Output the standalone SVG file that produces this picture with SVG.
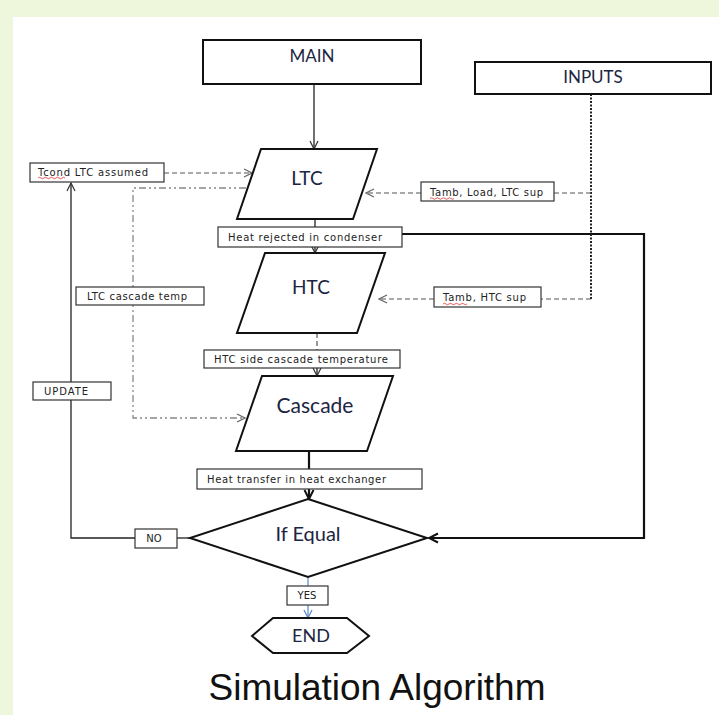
<svg xmlns="http://www.w3.org/2000/svg" width="719" height="715" viewBox="0 0 719 715">
<style>
.big{fill:#fff;stroke:#111;stroke-width:2}
.lbl{fill:#fff;stroke:#333;stroke-width:1.2}
.t1{font-family:Lato,"Open Sans",sans-serif;fill:#1c2541}
.t2{font-family:"DejaVu Sans",Verdana,sans-serif;font-size:10px;fill:#222}
.solid{fill:none;stroke:#222;stroke-width:1.3}
.thick{fill:none;stroke:#111;stroke-width:2.2}
.dash{fill:none;stroke:#555;stroke-width:1.2;stroke-dasharray:5 3}
.dashdot{fill:none;stroke:#888;stroke-width:1.3;stroke-dasharray:7 3 2 3 2 3}
.dot{fill:none;stroke:#222;stroke-width:2;stroke-dasharray:2 1.5}
.blue{fill:none;stroke:#5b86c8;stroke-width:1.2}
.sq{fill:none;stroke:#e03030;stroke-width:0.8}
</style>
<defs>
<marker id="open" markerWidth="10" markerHeight="10" refX="9" refY="5" orient="auto" markerUnits="userSpaceOnUse">
<path d="M1,1 L9,5 L1,9" fill="none" stroke="#333" stroke-width="1.2"/>
</marker>
<marker id="openg" markerWidth="10" markerHeight="10" refX="9" refY="5" orient="auto" markerUnits="userSpaceOnUse">
<path d="M1,1 L9,5 L1,9" fill="none" stroke="#666" stroke-width="1.2"/>
</marker>
<marker id="openb" markerWidth="10" markerHeight="10" refX="9" refY="5" orient="auto" markerUnits="userSpaceOnUse">
<path d="M1,1 L9,5 L1,9" fill="none" stroke="#5b86c8" stroke-width="1.2"/>
</marker>
<marker id="heavy" markerWidth="12" markerHeight="12" refX="10" refY="6" orient="auto" markerUnits="userSpaceOnUse">
<path d="M1,1.5 L10,6 L1,10.5" fill="none" stroke="#111" stroke-width="2"/>
</marker>
</defs>

<rect x="0" y="0" width="719" height="715" fill="#eef7dc"/>
<rect x="13" y="17" width="706" height="698" fill="#fff"/>

<g id="connectors">
<path class="solid" d="M314,84 L314,149" marker-end="url(#open)"/>
<path class="dash" d="M164,173 L252,173" marker-end="url(#openg)"/>
<path class="dashdot" d="M246,188 L133,188 L133,418 L245,418" marker-end="url(#openg)"/>
<path class="solid" d="M315,219 L315,227"/>
<path class="solid" d="M315,247 L315,253" marker-end="url(#open)"/>
<path class="thick" d="M402,234 L644,234 L644,538 L429,538" marker-end="url(#heavy)"/>
<path class="dot" d="M591,94 L591,299"/>
<path class="dash" d="M591,193 L554,193"/>
<path class="dash" d="M421,193 L366,193" marker-end="url(#openg)"/>
<path class="dash" d="M591,299 L541,299"/>
<path class="dash" d="M434,299 L379,299" marker-end="url(#openg)"/>
<path class="dash" d="M317,333 L317,350"/>
<path class="solid" d="M317,368 L317,376" marker-end="url(#open)"/>
<path class="thick" d="M309,451 L309,469"/>
<path class="thick" d="M309,489 L309,499" marker-end="url(#heavy)"/>
<path class="solid" d="M190,538 L177,538"/>
<path class="solid" d="M135,538 L71,538 L71,400"/>
<path class="solid" d="M71,382 L71,183" marker-end="url(#open)"/>
<path class="blue" d="M308,577 L308,586"/>
<path class="blue" d="M308,605 L308,618" marker-end="url(#openb)"/>
</g>

<g id="main">
<rect class="big" x="203" y="40" width="218" height="44"/>
<text class="t1" x="312" y="62" font-size="17" text-anchor="middle">MAIN</text>
</g>
<g id="inputs">
<rect class="big" x="475" y="62" width="236" height="32"/>
<text class="t1" x="593" y="83" font-size="17" text-anchor="middle">INPUTS</text>
</g>
<g id="ltc">
<polygon class="big" points="261,149 377,149 353,219 237,219"/>
<text class="t1" x="307" y="185" font-size="19" text-anchor="middle">LTC</text>
</g>
<g id="tcond">
<rect class="lbl" x="30" y="163" width="134" height="19"/>
<text class="t2" x="38" y="175.5" textLength="110">Tcond LTC assumed</text>
<path class="sq" d="M38,178 q1.5,-1.5 3,0 t3,0 t3,0 t3,0 t3,0 t3,0 t3,0 t3,0 t3,0"/>
</g>
<g id="tamb-load">
<rect class="lbl" x="421" y="182" width="133" height="19"/>
<text class="t2" x="430" y="195.5" textLength="113">Tamb, Load, LTC sup</text>
<path class="sq" d="M430,198.5 q1.5,-1.5 3,0 t3,0 t3,0 t3,0 t3,0 t3,0 t3,0 t3,0"/>
</g>
<g id="heat-rejected">
<rect class="lbl" x="218" y="227" width="184" height="20"/>
<text class="t2" x="228" y="240.5" textLength="154">Heat rejected in condenser</text>
</g>
<g id="htc">
<polygon class="big" points="265,253 385,253 357,333 237,333"/>
<text class="t1" x="311" y="294" font-size="19" text-anchor="middle">HTC</text>
</g>
<g id="ltc-cascade-temp">
<rect class="lbl" x="76" y="287" width="128" height="18"/>
<text class="t2" x="87" y="299.5" textLength="100">LTC cascade temp</text>
</g>
<g id="tamb-htc">
<rect class="lbl" x="434" y="287" width="107" height="20"/>
<text class="t2" x="443" y="301" textLength="83">Tamb, HTC sup</text>
<path class="sq" d="M443,304 q1.5,-1.5 3,0 t3,0 t3,0 t3,0 t3,0 t3,0 t3,0 t3,0"/>
</g>
<g id="htc-side">
<rect class="lbl" x="204" y="350" width="196" height="18"/>
<text class="t2" x="214" y="362.5" textLength="174">HTC side cascade temperature</text>
</g>
<g id="update">
<rect class="lbl" x="33" y="382" width="78" height="18"/>
<text class="t2" x="44" y="394.5" textLength="44">UPDATE</text>
</g>
<g id="cascade">
<polygon class="big" points="262,376 393,376 367,451 236,451"/>
<text class="t1" x="315" y="413" font-size="21" text-anchor="middle">Cascade</text>
</g>
<g id="heat-transfer">
<rect class="lbl" x="197" y="469" width="225" height="20"/>
<text class="t2" x="207" y="482.5" textLength="179">Heat transfer in heat exchanger</text>
</g>
<g id="if-equal">
<polygon class="big" points="308,499 427,538 308,577 190,538"/>
<text class="t1" x="308" y="541" font-size="20" text-anchor="middle">If Equal</text>
</g>
<g id="no">
<rect class="lbl" x="135" y="529" width="42" height="19"/>
<text class="t2" x="154" y="542" text-anchor="middle" font-size="8.5">NO</text>
</g>
<g id="yes">
<rect class="lbl" x="287" y="586" width="41" height="19"/>
<text class="t2" x="307" y="599" text-anchor="middle" font-size="8.5">YES</text>
</g>
<g id="end">
<polygon class="big" points="252,636 273,618 347,618 369,636 347,653 273,653"/>
<text class="t1" x="311" y="642" font-size="18" text-anchor="middle">END</text>
</g>

<text x="377" y="700" font-family="'Liberation Sans',Arial,sans-serif" font-size="37" text-anchor="middle" fill="#111" textLength="337">Simulation Algorithm</text>
</svg>
